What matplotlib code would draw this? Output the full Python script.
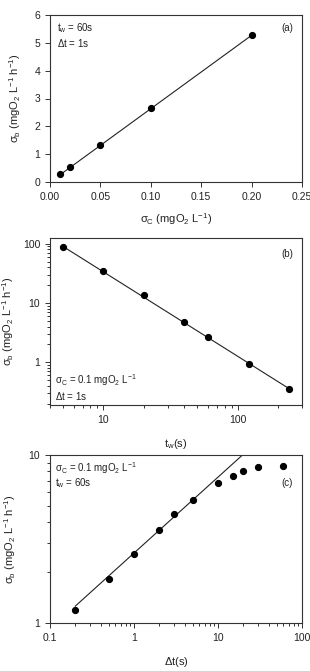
import numpy as np
import matplotlib.pyplot as plt
from matplotlib.ticker import LogLocator, NullFormatter, FixedLocator, FixedFormatter

plt.rcParams['font.family'] = ['Liberation Sans', 'DejaVu Sans']
plt.rcParams['mathtext.fontset'] = 'custom'
plt.rcParams['mathtext.rm'] = 'Liberation Sans'
plt.rcParams['mathtext.it'] = 'Liberation Sans'
plt.rcParams['mathtext.default'] = 'regular'

# (a) sigma_b vs sigma_C
sc_a = [0.01, 0.02, 0.05, 0.10, 0.20]
sb_a = [0.29, 0.55, 1.34, 2.65, 5.27]
fit_a_x = [0.01, 0.20]
fit_a_y = [0.26, 5.27]

# (b) sigma_b vs t_w
tw_b = [5, 10, 20, 40, 60, 120, 240]
sb_b = [88, 35, 13.5, 4.8, 2.65, 0.93, 0.35]
fit_b_x = [5, 240]
fit_b_y = [90, 0.36]

# (c) sigma_b vs delta t
dt_c = [0.2, 0.5, 1, 2, 3, 5, 10, 15, 20, 30, 60]
sb_c = [1.19, 1.84, 2.59, 3.57, 4.43, 5.39, 6.84, 7.53, 8.07, 8.52, 8.64]
fit_c_x = [0.2, 20]
fit_c_y = [1.26, 10.1]

txt = '#222222'
fs = 7
tfs = 7.5
lfs = 8
ylab = r'$\sigma_b$ (mgO$_2$ L$^{-1}$ h$^{-1}$)'

fig = plt.figure(figsize=(3.10, 6.71), dpi=100)
W, H = 310, 671

def make_ax(left, top, right, bottom):
    return fig.add_axes([left / W, 1 - bottom / H, (right - left) / W, (bottom - top) / H])

def style(ax):
    for s in ax.spines.values():
        s.set_color('#333333')
        s.set_linewidth(0.8)
    ax.tick_params(which='both', direction='out', top=False, right=False,
                   colors='#333333', labelcolor=txt, labelsize=tfs, width=0.7)
    ax.tick_params(which='major', length=3.5)
    ax.tick_params(which='minor', length=2)

def log_ticks(axis, majors, labels):
    axis.set_major_locator(FixedLocator(majors))
    axis.set_major_formatter(FixedFormatter(labels))
    axis.set_minor_locator(LogLocator(base=10, subs=np.arange(2, 10), numticks=20))
    axis.set_minor_formatter(NullFormatter())

# panel a
ax1 = make_ax(50, 15, 302, 182)
ax1.plot(fit_a_x, fit_a_y, color='#222222', lw=0.8)
ax1.plot(sc_a, sb_a, 'o', color='black', ms=4.2)
ax1.set_xlim(0, 0.25)
ax1.set_ylim(0, 6)
ax1.set_xticks(np.arange(0, 0.26, 0.05))
ax1.set_xticklabels(['0.00', '0.05', '0.10', '0.15', '0.20', '0.25'])
ax1.set_yticks(range(7))
style(ax1)
ax1.set_xlabel(r'$\sigma_C$ (mgO$_2$ L$^{-1}$)', fontsize=lfs, color=txt, labelpad=7)
ax1.set_ylabel(ylab, fontsize=lfs, color=txt, labelpad=8)
ax1.text(0.028, 0.92, r'$t_w$ = 60s', transform=ax1.transAxes, fontsize=fs, color=txt, va='center')
ax1.text(0.028, 0.83, r'$\Delta$t = 1s', transform=ax1.transAxes, fontsize=fs, color=txt, va='center')
ax1.text(0.964, 0.92, '(a)', transform=ax1.transAxes, fontsize=fs, color=txt, va='center', ha='right')

# panel b
ax2 = make_ax(50, 238, 302, 405)
ax2.plot(fit_b_x, fit_b_y, color='#222222', lw=0.8)
ax2.plot(tw_b, sb_b, 'o', color='black', ms=4.2)
ax2.set_xscale('log')
ax2.set_yscale('log')
ax2.set_xlim(4, 300)
ax2.set_ylim(0.19, 125)
log_ticks(ax2.xaxis, [10, 100], ['10', '100'])
log_ticks(ax2.yaxis, [1, 10, 100], ['1', '10', '100'])
style(ax2)
ax2.set_xlabel(r'$t_w$(s)', fontsize=lfs, color=txt, labelpad=9)
ax2.set_ylabel(ylab, fontsize=lfs, color=txt, labelpad=5)
ax2.text(0.02, 0.15, r'$\sigma_C$ = 0.1 mgO$_2$ L$^{-1}$', transform=ax2.transAxes, fontsize=fs, color=txt, va='center')
ax2.text(0.02, 0.054, r'$\Delta$t = 1s', transform=ax2.transAxes, fontsize=fs, color=txt, va='center')
ax2.text(0.964, 0.904, '(b)', transform=ax2.transAxes, fontsize=fs, color=txt, va='center', ha='right')

# panel c
ax3 = make_ax(50, 455, 302, 623)
ax3.plot(fit_c_x, fit_c_y, color='#222222', lw=0.8)
ax3.plot(dt_c, sb_c, 'o', color='black', ms=4.2)
ax3.set_xscale('log')
ax3.set_yscale('log')
ax3.set_xlim(0.1, 100)
ax3.set_ylim(1, 10)
log_ticks(ax3.xaxis, [0.1, 1, 10, 100], ['0.1', '1', '10', '100'])
log_ticks(ax3.yaxis, [1, 10], ['1', '10'])
style(ax3)
ax3.set_xlabel(r'$\Delta$t(s)', fontsize=lfs, color=txt, labelpad=9)
ax3.set_ylabel(ylab, fontsize=lfs, color=txt, labelpad=8)
ax3.text(0.02, 0.925, r'$\sigma_C$ = 0.1 mgO$_2$ L$^{-1}$', transform=ax3.transAxes, fontsize=fs, color=txt, va='center')
ax3.text(0.02, 0.835, r'$t_w$ = 60s', transform=ax3.transAxes, fontsize=fs, color=txt, va='center')
ax3.text(0.964, 0.835, '(c)', transform=ax3.transAxes, fontsize=fs, color=txt, va='center', ha='right')

fig.savefig('out.png', dpi=100)
